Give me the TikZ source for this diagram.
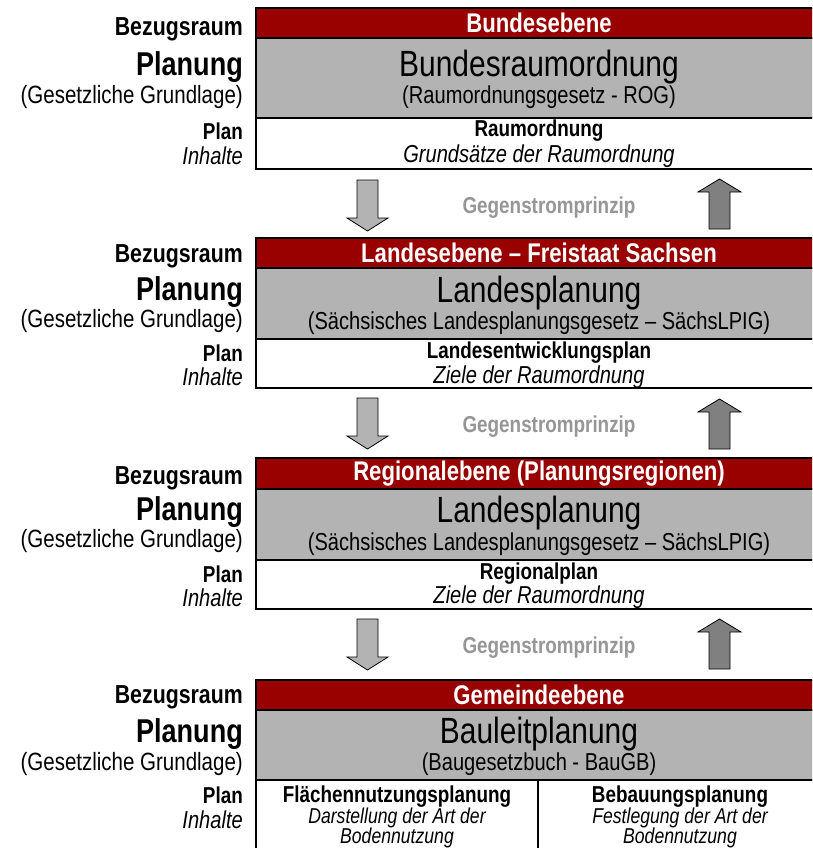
\documentclass[tikz,border=0pt]{standalone}
\usepackage{fontspec}
\setmainfont[FakeStretch=0.82]{Liberation Sans}
\definecolor{bandred}{RGB}{153,0,0}
\definecolor{bandgray}{RGB}{179,179,179}
\definecolor{upgray}{RGB}{128,128,128}
\definecolor{labelgray}{RGB}{150,150,150}
\newcommand\fsz[1]{\fontsize{#1}{#1}\selectfont}
\tikzset{
  band/.style={draw=black, line width=1.4pt, anchor=north west, minimum width=566pt, inner sep=0pt, outer sep=0pt},
  sidelbl/.style={anchor=east, inner sep=0pt},
  txt/.style={inner sep=0pt},
  titletxt/.style={txt, text=white, font=\fsz{27}\bfseries},
  maintxt/.style={txt, font=\fsz{36.5}},
  subtxt/.style={txt, font=\fsz{24.5}},
  plantxt/.style={txt, font=\fsz{23}\bfseries},
  contenttxt/.style={txt, font=\fsz{24.5}\itshape},
  flowtxt/.style={txt, text=labelgray, font=\fsz{23}\bfseries},
  downarr/.style={draw=black, line width=0.8pt, fill=bandgray, line join=miter},
  uparr/.style={draw=black, line width=0.8pt, fill=upgray, line join=miter},
}
% one level: name, top, bottom of red band, bottom of grey band, bottom of white band
\newcommand\levelbands[5]{%
  \node[band, fill=bandred,  minimum height={#3pt-#2pt}] (#1title) at (256,#2) {};
  \node[band, fill=bandgray, minimum height={#4pt-#3pt}] (#1law)   at (256,#3) {};
  \node[band, fill=white,    minimum height={#5pt-#4pt}] (#1plan)  at (256,#4) {};
}
% side labels of one level: y positions of the five lines
\newcommand\sidelabels[6]{%
  \node[sidelbl, font=\fsz{26}\bfseries] (#1a) at (243,#2) {Bezugsraum};
  \node[sidelbl, font=\fsz{33}\bfseries] (#1b) at (243,#3) {Planung};
  \node[sidelbl, font=\fsz{25}]          (#1c) at (243,#4) {(Gesetzliche Grundlage)};
  \node[sidelbl, font=\fsz{23}\bfseries] (#1d) at (243,#5) {Plan};
  \node[sidelbl, font=\fsz{24.5}\itshape](#1e) at (243,#6) {Inhalte};
}
% block arrows between two levels: top of the down arrow, tip of the up arrow, label y
\newcommand\counterflow[4]{%
  \draw[downarr] (357,#2) -- (378,#2) -- (378,{#2+38}) -- (388,{#2+38}) -- (367.5,{#2+51})
    -- (347,{#2+38}) -- (357,{#2+38}) -- cycle;
  \draw[uparr] (719.5,#3) -- (741,{#3+13}) -- (730,{#3+13}) -- (730,{#3+50}) -- (709,{#3+50})
    -- (709,{#3+13}) -- (698,{#3+13}) -- cycle;
  \node[flowtxt] (#1) at (549,#4) {Gegenstromprinzip};
}
\begin{document}
\begin{tikzpicture}[x=1pt,y=-1pt]
\useasboundingbox (0,0) rectangle (812,848);
\clip (0,0) rectangle (812,848);
\fill[white] (0,0) rectangle (812,848);

% Bundesebene
\levelbands{one}{8}{38}{118}{169}
\sidelabels{lone}{29}{67}{97}{131}{156}
\node[titletxt]   at (onetitle) {Bundesebene};
\node[maintxt]    at (539,67) {Bundesraumordnung};
\node[subtxt]     at (539,97) {(Raumordnungsgesetz - ROG)};
\node[plantxt]    at (539,131) {Raumordnung};
\node[contenttxt] at (539,156) {Grundsätze der Raumordnung};

\counterflow{flowone}{180}{179}{208}

% Landesebene
\levelbands{two}{238}{268}{339}{388}
\sidelabels{ltwo}{256}{292}{321}{353}{377}
\node[titletxt]   at (twotitle) {Landesebene – Freistaat Sachsen};
\node[maintxt]    at (539,293) {Landesplanung};
\node[subtxt]     at (539,323) {(Sächsisches Landesplanungsgesetz – SächsLPIG)};
\node[plantxt]    at (539,353) {Landesentwicklungsplan};
\node[contenttxt] at (539,377) {Ziele der Raumordnung};

\counterflow{flowtwo}{398}{399}{427}

% Regionalebene
\levelbands{three}{458}{489}{560}{609}
\sidelabels{lthree}{478}{512}{541}{574}{598}
\node[titletxt]   at (threetitle) {Regionalebene (Planungsregionen)};
\node[maintxt]    at (539,513) {Landesplanung};
\node[subtxt]     at (539,544) {(Sächsisches Landesplanungsgesetz – SächsLPIG)};
\node[plantxt]    at (539,574) {Regionalplan};
\node[contenttxt] at (539,597) {Ziele der Raumordnung};

\counterflow{flowthree}{619}{619}{648}

% Gemeindeebene
\levelbands{four}{680}{710}{780}{852}
\sidelabels{lfour}{697}{734}{764}{795}{820}
\node[titletxt]   at (fourtitle) {Gemeindeebene};
\node[maintxt]    at (539,734) {Bauleitplanung};
\node[subtxt]     at (539,764) {(Baugesetzbuch - BauGB)};
\coordinate (split top) at (538,780);
\coordinate (split bottom) at (538,852);
\draw[line width=1.4pt] (split top) -- (split bottom);
\node[plantxt]    at (397,797) {Flächennutzungsplanung};
\node[contenttxt, align=center, font=\fsz{21.5}\itshape] at (397,828)
  {Darstellung der Art der\\[-1pt]Bodennutzung};
\node[plantxt]    at (680,797) {Bebauungsplanung};
\node[contenttxt, align=center, font=\fsz{21.5}\itshape] at (680,828)
  {Festlegung der Art der\\[-1pt]Bodennutzung};
\end{tikzpicture}
\end{document}
